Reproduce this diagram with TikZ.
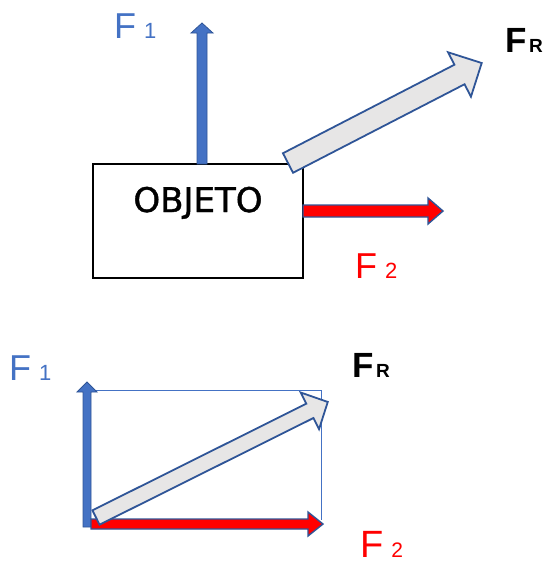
\documentclass[tikz,border=0pt]{standalone}
\usepackage{fontspec}
\setmainfont{Liberation Sans}
\newfontfamily\objfont[FakeBold=1.2]{DejaVu Sans}
\definecolor{fblue}{HTML}{4472C4}
\definecolor{edgeblue}{HTML}{2F5597}
\definecolor{fgray}{HTML}{E7E6E6}
\definecolor{fred}{HTML}{FF0000}
% block arrow: #2 length, #3 shaft width, #4 head width, #5 head length
\newcommand{\blkarrow}[5][]{%
  \path[#1] (0,-#3/2) -- (#2-#5,-#3/2) -- (#2-#5,-#4/2) -- (#2,0) -- (#2-#5,#4/2) -- (#2-#5,#3/2) -- (0,#3/2) -- cycle;}
\newcommand{\flab}[5]{{\fontsize{#1}{#1}\selectfont #2}\hspace{#3}{\fontsize{#4}{#4}\selectfont #5}}
\tikzset{
  arrF1/.style={fill=fblue, draw=edgeblue, line width=0.8pt, line join=miter},
  arrF2/.style={fill=fred, draw=edgeblue, line width=1.4pt, line join=miter},
  arrFR/.style={fill=fgray, draw=edgeblue, line width=1.8pt, line join=miter},
  guide/.style={draw=fblue, line width=0.8pt},
  lbl/.style={anchor=base west, inner sep=0pt},
}
\begin{document}
\begin{tikzpicture}[x=1pt,y=1pt]
\useasboundingbox (0,0) rectangle (548,-565);
% ---------- top ----------
\node[draw=black, line width=1.2pt, minimum width=210pt, minimum height=114pt, inner sep=0pt] (box) at (198,-221) {};
\node[anchor=base, inner sep=0pt] (objtxt) at (198,-212) {\objfont\fontsize{34}{34}\selectfont OBJETO};
\begin{scope}[shift={(202,-164)}, rotate=90]
  \blkarrow[arrF1]{141}{10}{22}{10}
\end{scope}
\begin{scope}[shift={(303,-211)}]
  \blkarrow[arrF2]{140}{12}{26}{15}
\end{scope}
\begin{scope}[shift={(288,-163)}, rotate=27.3]
  \blkarrow[arrFR]{218}{22}{50}{25}
\end{scope}
\node[lbl, text=fblue] (f1top) at (114,-38) {\flab{36}{F}{8pt}{22}{1}};
\node[lbl, text=fred] (f2top) at (355,-278) {\flab{36}{F}{8pt}{22}{2}};
\node[lbl, text=black] (frtop) at (505.5,-52) {\bfseries\flab{35}{F}{2pt}{19}{R}};
% ---------- bottom ----------
\coordinate (tl) at (92,-390);
\coordinate (tr) at (321,-390);
\coordinate (br) at (321,-520);
\draw[guide] (tl) -- (tr) -- (br);
\begin{scope}[shift={(87,-527)}, rotate=90]
  \blkarrow[arrF1]{145}{8}{20}{10}
\end{scope}
\begin{scope}[shift={(91,-524)}]
  \blkarrow[arrF2]{232}{10}{24}{15}
\end{scope}
\begin{scope}[shift={(96,-517.5)}, rotate=26.5]
  \blkarrow[arrFR]{259}{16}{41}{20}
\end{scope}
\node[lbl, text=fblue] (f1bot) at (9,-380) {\flab{36}{F}{8pt}{22}{1}};
\node[lbl, text=black] (frbot) at (352.5,-377) {\bfseries\flab{35}{F}{2pt}{19}{R}};
\node[lbl, text=fred] (f2bot) at (360,-557) {\flab{38}{F}{8pt}{21}{2}};
\end{tikzpicture}
\end{document}
